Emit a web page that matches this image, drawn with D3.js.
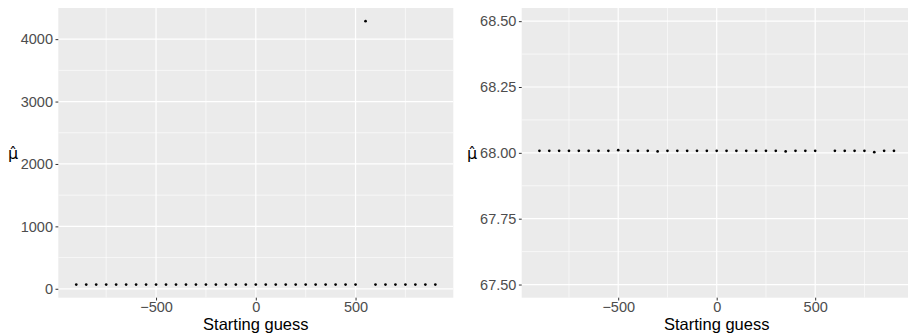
<!DOCTYPE html>
<html>
<head>
<meta charset="utf-8">
<script src="https://cdn.jsdelivr.net/npm/d3@7"></script>
<style>
  html, body { margin: 0; padding: 0; background: #fff; }
  svg { display: block; }
</style>
</head>
<body>
<svg id="chart" width="908" height="336"></svg>
<script>
// Starting guesses passed to the optimiser
const startingGuess = [
  -900, -850, -800, -750, -700, -650, -600, -550, -500, -450,
  -400, -350, -300, -250, -200, -150, -100, -50, 0, 50,
  100, 150, 200, 250, 300, 350, 400, 450, 500, 550,
  600, 650, 700, 750, 800, 850, 900
];
// Resulting estimate of mu for each starting guess
const muHat = [
  68.0076, 68.0076, 68.0076, 68.0076, 68.0076, 68.0076, 68.0076, 68.0076, 68.0101, 68.0076,
  68.0076, 68.0076, 68.0053, 68.0076, 68.0076, 68.0076, 68.0076, 68.0076, 68.0076, 68.0076,
  68.0076, 68.0076, 68.0076, 68.0076, 68.0076, 68.0053, 68.0076, 68.0076, 68.0076, 4288,
  68.0076, 68.0076, 68.0076, 68.0076, 68.0027, 68.0076, 68.0076
];
const xTicks = [-500, 0, 500];
const xMinor = [-750, -250, 250, 750];
const leftYTicks = [0, 1000, 2000, 3000, 4000];
const leftYMinor = [500, 1500, 2500, 3500];
const rightYTicks = [67.5, 67.75, 68.0, 68.25, 68.5];
const rightYMinor = [67.625, 67.875, 68.125, 68.375];
const xTitle = "Starting guess";
const yTitle = "\u03BC\u0302";   // mu with a circumflex hat

const points = startingGuess.map((g, i) => ({ x: g, y: muHat[i] }));

const svg = d3.select("#chart");
const FONT = "'Liberation Sans', Arial, Helvetica, sans-serif";

// ggplot-style 5% expansion of a range
function expand(lo, hi) {
  const pad = (hi - lo) * 0.05;
  return [lo - pad, hi + pad];
}

const xDomain = expand(d3.min(startingGuess), d3.max(startingGuess));
const yExtent = d3.extent(muHat);

const panels = [
  {
    xRange: [58.3, 453.3],
    yDomain: expand(yExtent[0], yExtent[1]),
    yTicks: leftYTicks, yMinor: leftYMinor,
    yFmt: d3.format("d"),
    titleX: 13,
    titleCenter: 255.8
  },
  {
    xRange: [521.7, 911.7],
    yDomain: expand(67.5, 68.5),
    yTicks: rightYTicks, yMinor: rightYMinor,
    yFmt: d3.format(".2f"),
    titleX: 472,
    titleCenter: 716.7
  }
];

const panelTop = 8, panelBottom = 297.7;

panels.forEach((p, pi) => {
  const x = d3.scaleLinear().domain(xDomain).range(p.xRange);
  const y = d3.scaleLinear().domain(p.yDomain).range([panelBottom, panelTop]);
  const g = svg.append("g");

  const clipId = "clip" + pi;
  svg.append("clipPath").attr("id", clipId)
    .append("rect")
    .attr("x", p.xRange[0]).attr("y", panelTop)
    .attr("width", p.xRange[1] - p.xRange[0]).attr("height", panelBottom - panelTop);

  // panel background
  g.append("rect")
    .attr("x", p.xRange[0]).attr("y", panelTop)
    .attr("width", p.xRange[1] - p.xRange[0]).attr("height", panelBottom - panelTop)
    .attr("fill", "#EBEBEB");

  const grid = g.append("g").attr("clip-path", `url(#${clipId})`);
  // minor grid
  grid.selectAll(".vminor").data(xMinor).join("line")
    .attr("x1", d => x(d)).attr("x2", d => x(d))
    .attr("y1", panelTop).attr("y2", panelBottom)
    .attr("stroke", "#fff").attr("stroke-width", 0.6);
  grid.selectAll(".hminor").data(p.yMinor).join("line")
    .attr("y1", d => y(d)).attr("y2", d => y(d))
    .attr("x1", p.xRange[0]).attr("x2", p.xRange[1])
    .attr("stroke", "#fff").attr("stroke-width", 0.6);
  // major grid
  grid.selectAll(".vmajor").data(xTicks).join("line")
    .attr("x1", d => x(d)).attr("x2", d => x(d))
    .attr("y1", panelTop).attr("y2", panelBottom)
    .attr("stroke", "#fff").attr("stroke-width", 1.2);
  grid.selectAll(".hmajor").data(p.yTicks).join("line")
    .attr("y1", d => y(d)).attr("y2", d => y(d))
    .attr("x1", p.xRange[0]).attr("x2", p.xRange[1])
    .attr("stroke", "#fff").attr("stroke-width", 1.2);

  // points
  grid.selectAll("circle").data(points).join("circle")
    .attr("cx", d => x(d.x)).attr("cy", d => y(d.y))
    .attr("r", 1.35).attr("fill", "#000");

  // x axis
  const xAxis = d3.axisBottom(x).tickValues(xTicks).tickSize(2.8).tickPadding(1)
    .tickFormat(d3.format("d"));
  const xg = g.append("g").attr("transform", `translate(0,${panelBottom})`).call(xAxis);
  xg.select(".domain").remove();
  xg.selectAll(".tick line").attr("stroke", "#333").attr("stroke-width", 1);
  xg.selectAll(".tick text").attr("fill", "#4D4D4D")
    .style("font-family", FONT).style("font-size", "14.5px");

  // y axis
  const yAxis = d3.axisLeft(y).tickValues(p.yTicks).tickSize(2.8).tickPadding(2.5)
    .tickFormat(p.yFmt);
  const yg = g.append("g").attr("transform", `translate(${p.xRange[0]},0)`).call(yAxis);
  yg.select(".domain").remove();
  yg.selectAll(".tick line").attr("stroke", "#333").attr("stroke-width", 1);
  yg.selectAll(".tick text").attr("fill", "#4D4D4D")
    .style("font-family", FONT).style("font-size", "14.5px");

  // x title
  g.append("text")
    .attr("x", p.titleCenter)
    .attr("y", 329.5)
    .attr("text-anchor", "middle")
    .attr("fill", "#000")
    .style("font-family", FONT).style("font-size", "16.5px")
    .text(xTitle);

  // y title, upright
  g.append("text")
    .attr("x", p.titleX).attr("y", 159)
    .attr("text-anchor", "middle")
    .attr("fill", "#000")
    .style("font-family", "'DejaVu Sans', sans-serif").style("font-size", "16px")
    .text(yTitle);
});
</script>
</body>
</html>
